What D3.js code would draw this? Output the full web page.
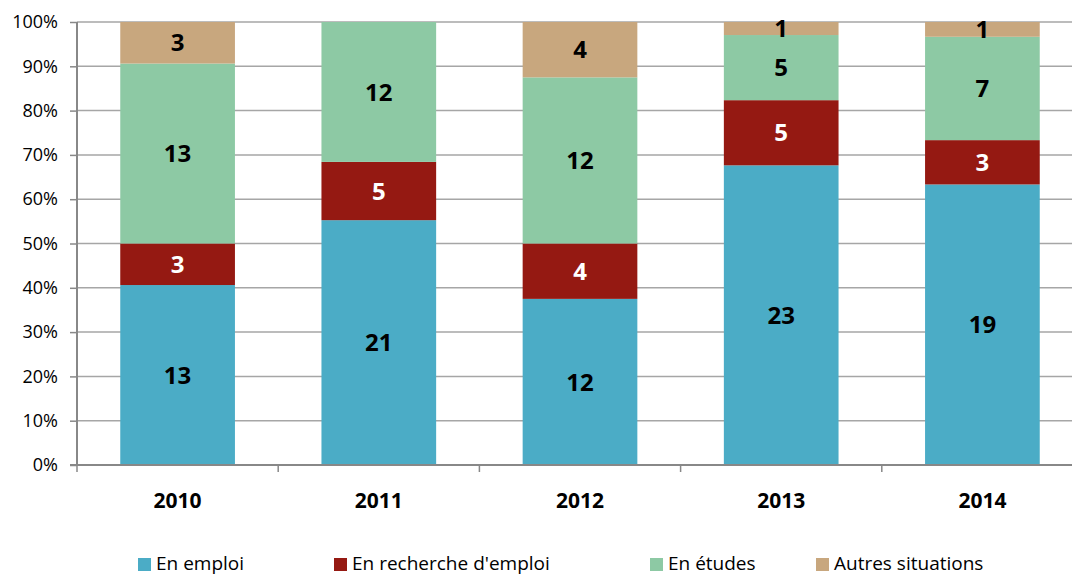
<!DOCTYPE html>
<html>
<head>
<meta charset="utf-8">
<script src="https://d3js.org/d3.v7.min.js"></script>
<style>
  body { margin: 0; background: #fff; }
  text { font-family: "Open Sans", "Noto Sans", sans-serif; }
</style>
</head>
<body>
<script>
var years = ["2010", "2011", "2012", "2013", "2014"];
var seriesNames = ["En emploi", "En recherche d'emploi", "En études", "Autres situations"];
var enEmploi = [13, 21, 12, 23, 19];
var enRecherche = [3, 5, 4, 5, 3];
var enEtudes = [13, 12, 12, 5, 7];
var autres = [3, 0, 4, 1, 1];
var yTicks = [0, 0.1, 0.2, 0.3, 0.4, 0.5, 0.6, 0.7, 0.8, 0.9, 1];
var colors = ["#4bacc6", "#951912", "#8dc9a4", "#c8a77e"];
var labelColors = ["#000", "#fff", "#000", "#000"];

var w = 1072, h = 576;
var plotLeft = 77, plotRight = 1083, plotTop = 22, plotBottom = 465;

var rows = years.map(function(y, i) {
  var vals = [enEmploi[i], enRecherche[i], enEtudes[i], autres[i]];
  var total = d3.sum(vals);
  var r = { year: y, total: total };
  seriesNames.forEach(function(s, k) { r[s] = vals[k] / total; r[s + "_n"] = vals[k]; });
  return r;
});

var stacked = d3.stack().keys(seriesNames)(rows);

var svg = d3.select("body").append("svg").attr("width", w).attr("height", h);

var x = d3.scaleBand().domain(years).range([plotLeft, plotRight]).paddingInner(0.43).paddingOuter(0.215);
var y = d3.scaleLinear().domain([0, 1]).range([plotBottom, plotTop]);

// grid
svg.append("g").selectAll("line").data(yTicks.slice(1)).enter().append("line")
  .attr("x1", plotLeft).attr("x2", plotRight)
  .attr("y1", function(d) { return y(d); }).attr("y2", function(d) { return y(d); })
  .attr("stroke", "#a6a6a6").attr("stroke-width", 1.5);

// bars
var groups = svg.append("g").selectAll("g").data(stacked).enter().append("g")
  .attr("fill", function(d, i) { return colors[i]; });

groups.selectAll("rect").data(function(d) { return d; }).enter().append("rect")
  .attr("x", function(d) { return x(d.data.year); })
  .attr("width", x.bandwidth())
  .attr("y", function(d) { return y(d[1]); })
  .attr("height", function(d) { return y(d[0]) - y(d[1]); });

// labels
stacked.forEach(function(s, k) {
  svg.append("g").selectAll("text").data(s.filter(function(d) { return d.data[s.key + "_n"] > 0; }))
    .enter().append("text")
    .attr("x", function(d) { return x(d.data.year) + x.bandwidth() / 2; })
    .attr("y", function(d) { return (y(d[0]) + y(d[1])) / 2; })
    .attr("dy", "0.36em")
    .attr("text-anchor", "middle")
    .attr("font-size", "24px").attr("font-weight", "bold")
    .attr("fill", labelColors[k])
    .text(function(d) { return d.data[s.key + "_n"]; });
});

// y axis
var yAxis = d3.axisLeft(y).tickValues(yTicks).tickSize(7).tickPadding(12).tickFormat(d3.format(".0%"));
var gy = svg.append("g").attr("transform", "translate(" + plotLeft + ",0)").call(yAxis);
gy.select(".domain").attr("stroke", "#888").attr("stroke-width", 2).attr("d", "M0," + plotTop + "V" + plotBottom);
gy.selectAll(".tick line").attr("stroke", "#888").attr("stroke-width", 1.5);
gy.selectAll(".tick text").attr("font-size", "18px").attr("fill", "#000")
  .style("font-family", "'Open Sans', sans-serif");

// x axis
var gx = svg.append("g").attr("transform", "translate(0," + plotBottom + ")");
gx.append("line").attr("x1", plotLeft - 7).attr("x2", plotRight).attr("stroke", "#888").attr("stroke-width", 2);
gx.selectAll("line.sep").data(years).enter().append("line")
  .attr("x1", function(d) { return x(d) - x.step() * x.paddingInner() / 2; })
  .attr("x2", function(d) { return x(d) - x.step() * x.paddingInner() / 2; })
  .attr("y1", 0).attr("y2", 7).attr("stroke", "#888").attr("stroke-width", 1.5);
gx.selectAll("text").data(years).enter().append("text")
  .attr("x", function(d) { return x(d) + x.bandwidth() / 2; })
  .attr("y", 43).attr("text-anchor", "middle")
  .attr("font-size", "21px").attr("font-weight", "bold")
  .text(function(d) { return d; });

// legend
var legX = [138, 334, 650, 816];
var leg = svg.append("g").selectAll("g").data(seriesNames).enter().append("g")
  .attr("transform", function(d, i) { return "translate(" + legX[i] + ",556)"; });
leg.append("rect").attr("width", 13).attr("height", 13).attr("y", 2)
  .attr("fill", function(d, i) { return colors[i]; });
leg.append("text").attr("x", 18).attr("y", 14).attr("font-size", "19px").text(function(d) { return d; });
</script>
</body>
</html>
